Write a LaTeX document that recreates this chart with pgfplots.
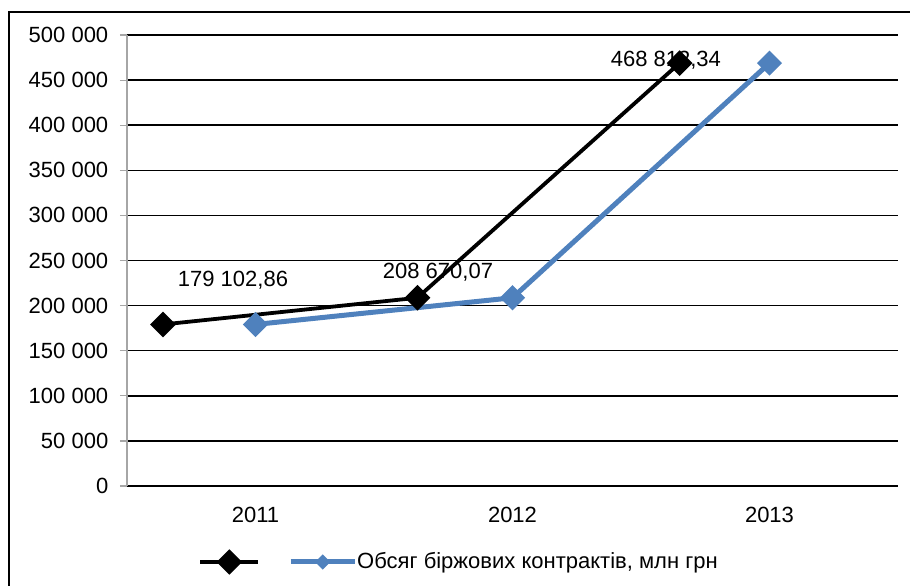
\documentclass[border=0pt]{standalone}
\usepackage{pgfplots}
\pgfplotsset{compat=1.18}
\usepackage{fontspec}
\setmainfont{Liberation Sans}
\definecolor{blueline}{RGB}{79,129,189}
\begin{document}
\fontsize{11bp}{13.2bp}\selectfont
\begin{tikzpicture}
\path[use as bounding box] (0,0) rectangle (455bp,293bp);
\draw[line width=1.2bp] (4.5bp,0) -- (4.5bp,287bp) -- (456bp,287bp);
\begin{axis}[
  at={(63.5bp,50bp)}, anchor=south west,
  scale only axis, width=385.5bp, height=225.5bp,
  xmin=-0.5, xmax=2.5, ymin=0, ymax=500000,
  scaled y ticks=false,
  xtick={0,1,2}, xticklabels={2011,2012,2013},
  ytick={0,50000,100000,150000,200000,250000,300000,350000,400000,450000,500000},
  yticklabels={0,50 000,100 000,150 000,200 000,250 000,300 000,350 000,400 000,450 000,500 000},
  ymajorgrids, grid style={black, line width=0.75bp},
  axis x line*=bottom, axis y line*=left,
  y axis line style={gray!70, line width=0.6bp, -},
  x axis line style={black, line width=0.75bp, -},
  major x tick style={draw=none},
  major y tick style={gray!70, line width=0.6bp},
  tick align=outside, major tick length=3.5bp,
  tick label style={font=\fontsize{11bp}{13.2bp}\selectfont},
  xticklabel style={yshift=-3bp},
  yticklabel style={xshift=-2bp},
  clip=false,
  legend style={at={(0.432,-0.1685)}, anchor=center, draw=none, fill=none,
    legend columns=2, font=\fontsize{11bp}{13.2bp}\selectfont},
]
\addplot[black, line width=1.9bp, mark=square*, mark size=3.6bp, mark options={rotate=45, solid},
  legend image code/.code={\draw[black, line width=1.9bp] (0bp,0bp) -- (29bp,0bp);
     \draw[black, fill=black] (14.5bp,-5bp) -- (19.5bp,0bp) -- (14.5bp,5bp) -- (9.5bp,0bp) -- cycle;}]
  coordinates {(-0.36,179102.86) (0.63,208670.07) (1.65,468812.34)};
\addlegendentry{\rule{10bp}{0bp}}
\addplot[blueline, line width=2.5bp, mark=square*, mark size=3.2bp, mark options={rotate=45, solid},
  legend image code/.code={\draw[blueline, line width=2.5bp] (0bp,0bp) -- (32bp,0bp);
     \fill[blueline] (16bp,-2bp) -- (18bp,0bp) -- (16bp,2bp) -- (14bp,0bp) -- cycle;}]
  coordinates {(0,179102.86) (1,208670.07) (2,468812.34)};
\addlegendentry{\hspace*{-2bp}Обсяг біржових контрактів, млн грн}
\node at (axis cs:-0.0875,228381) {179 102,86};
\node at (axis cs:0.710,237251) {208 670,07};
\node at (axis cs:1.597,472284) {468 812,34};
\end{axis}
\end{tikzpicture}
\end{document}
